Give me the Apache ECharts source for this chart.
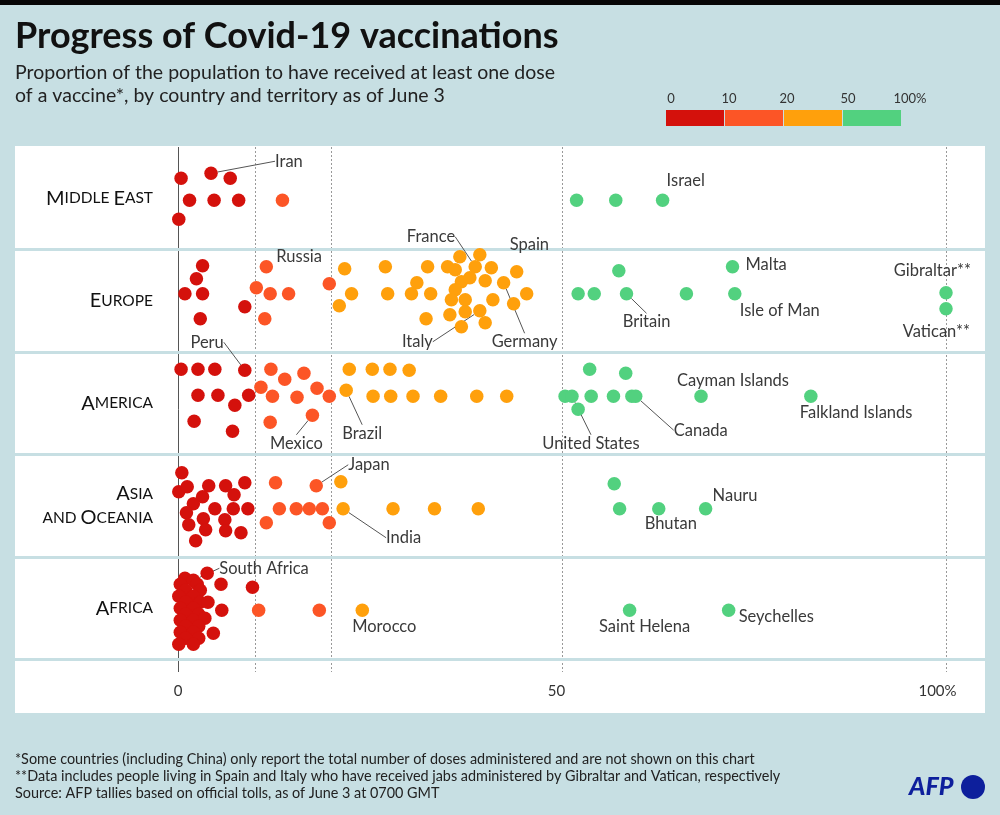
<!DOCTYPE html>
<html>
<head>
<meta charset="utf-8">
<title>Progress of Covid-19 vaccinations</title>
<script src="https://cdn.jsdelivr.net/npm/echarts@6/dist/echarts.min.js"></script>
<style>
  html, body { margin: 0; padding: 0; background: #c7dfe3; }
  #chart { width: 1000px; height: 815px; }
</style>
</head>
<body>
<div id="chart"></div>
<script>
// regions, top to bottom
const regions = ['Middle East', 'Europe', 'America', 'Asia and Oceania', 'Africa'];

// [% with at least one dose, jitter inside the band (px from band centre), name if labelled]
const middleEast = [
  [0.4, -20], [4.3, -25, 'Iran'], [6.8, -20], [1.5, 2], [4.7, 2], [7.9, 2], [0.1, 21],
  [13.6, 2],
  [51.9, 2], [57.0, 2], [63.1, 2, 'Israel']
];
const europe = [
  [3.2, -35], [2.4, -22], [0.9, -7], [3.2, -7], [2.9, 18], [8.7, 6],
  [11.5, -34, 'Russia'], [10.2, -13], [12.0, -7], [14.4, -7], [11.3, 18], [19.7, -17],
  [21.7, -32], [27.0, -34], [22.6, -7], [27.3, -7], [21.0, 5], [32.5, -34], [35.1, -34],
  [36.1, -31], [36.7, -44], [39.3, -46], [38.7, -34, 'France'], [40.8, -33], [44.1, -29, 'Spain'],
  [31.1, -18], [30.4, -7], [32.9, -7], [36.9, -19], [38.0, -23], [40.0, -20],
  [42.4, -18, 'Germany'], [45.4, -7], [36.1, -11], [35.6, -1], [37.4, -1], [41.0, -1],
  [43.7, 3], [35.4, 14], [37.4, 11], [39.3, 10, 'Italy'], [32.3, 18], [36.9, 26], [40.0, 22],
  [57.4, -30], [52.1, -7], [54.2, -7], [58.4, -7, 'Britain'], [66.2, -7], [72.2, -34, 'Malta'],
  [72.5, -7, 'Isle of Man'], [100, -8, 'Gibraltar**'], [100, 8, 'Vatican**']
];
const america = [
  [0.4, -34], [2.6, -34], [4.8, -34], [8.7, -33, 'Peru'], [2.6, -8], [5.2, -8], [9.2, -8],
  [7.4, 2], [2.1, 18], [7.1, 28],
  [12.1, -34], [16.4, -30], [13.9, -24], [10.8, -16], [18.1, -15], [12.3, -7], [15.5, -6],
  [19.7, -7], [17.5, 12, 'Mexico'], [12.0, 19],
  [22.3, -34], [25.3, -34], [27.6, -34], [30.1, -33], [21.9, -13, 'Brazil'], [25.4, -7],
  [27.7, -7], [30.6, -7], [34.2, -7], [38.9, -7], [42.8, -7],
  [50.4, -7], [51.3, -7, 'United States'], [52.1, 6], [53.6, -34], [53.8, -7], [56.7, -7],
  [58.3, -30], [59.1, -7], [59.6, -7, 'Canada'], [68.1, -7, 'Cayman Islands'],
  [82.4, -7, 'Falkland Islands']
];
const asia = [
  [0.5, -33], [0.1, -14], [1.2, -19], [4.0, -20], [6.2, -20], [8.7, -23], [3.2, -9], [7.3, -11],
  [2.0, -2], [4.8, 3], [7.2, 3], [9.1, 3], [1.1, 7], [3.3, 13], [1.4, 19], [6.1, 14], [3.6, 24],
  [6.2, 25], [8.2, 27], [2.3, 35],
  [12.7, -23], [18.0, -20, 'Japan'], [13.2, 3], [15.4, 3], [17.1, 3], [18.8, 3], [11.5, 17],
  [19.7, 17],
  [21.2, -24], [21.5, 3, 'India'], [28.0, 3], [33.4, 3], [39.1, 3],
  [56.8, -22], [57.5, 3], [62.6, 3, 'Bhutan'], [68.7, 3, 'Nauru']
];
const africa = [
  [3.8, -35], [0.9, -30], [2.0, -28, 'South Africa'], [0.3, -24], [2.5, -24], [1.0, -18],
  [2.9, -18], [5.6, -24], [9.7, -21], [0.1, -12], [2.0, -12], [1.0, -6], [2.9, -6], [3.9, -6],
  [0.3, 0], [2.0, 0], [5.7, 2], [1.0, 6], [2.7, 6], [0.3, 12], [2.0, 12], [3.5, 10], [1.0, 18],
  [2.7, 18], [0.3, 24], [2.0, 24], [4.6, 25], [1.0, 30], [2.7, 30], [0.1, 36], [2.0, 36],
  [10.5, 2], [18.4, 2],
  [24.0, 2, 'Morocco'],
  [58.8, 2, 'Saint Helena'], [71.7, 2, 'Seychelles']
];
const regionData = [middleEast, europe, america, asia, africa];

const xTicks = [0, 50, 100];
const guides = [10, 20, 50, 100];
const legendSteps = [0, 10, 20, 50, 100];
const legendLabels = ['0', '10', '20', '50', '100%'];
const stepColors = ['#d4110c', '#fc5526', '#ffa00c', '#52d17f'];

const BAND = 102.5;
const BG = '#c7dfe3';
const FONT = 'Lato, "Noto Sans", sans-serif';

// where each country name sits relative to its dot
const labelPlace = {
  'Iran': [64, -12, 'left'], 'Israel': [4, -20, 'left'], 'Russia': [10, -10, 'left'],
  'France': [-20, -30, 'right'], 'Spain': [-7, -27, 'left'], 'Italy': [-47, 31, 'right'],
  'Germany': [-12, 59, 'left'], 'Malta': [13, -2, 'left'], 'Britain': [20, 28, 'center'],
  'Isle of Man': [5, 17, 'left'], 'Gibraltar**': [25, -22, 'right'], 'Vatican**': [24, 23, 'right'],
  'Peru': [-21, -28, 'right'], 'Mexico': [-16, 28, 'center'], 'Brazil': [16, 43, 'center'],
  'United States': [19, 47, 'center'], 'Canada': [38, 34, 'left'],
  'Cayman Islands': [32, -16, 'center'], 'Falkland Islands': [-11, 16, 'left'],
  'Japan': [32, -21, 'left'], 'India': [43, 29, 'left'], 'Nauru': [7, -13, 'left'],
  'Bhutan': [12, 15, 'center'], 'South Africa': [26, -12, 'left'], 'Morocco': [22, 16, 'center'],
  'Saint Helena': [15, 16, 'center'], 'Seychelles': [10, 6, 'left']
};
const withLeader = ['Iran', 'France', 'Italy', 'Germany', 'Britain', 'Peru', 'Mexico', 'Brazil',
  'United States', 'Canada', 'Japan', 'India', 'South Africa'];

const smallCaps = (name) => name.replace(' and ', '\nand ').split('\n').map(line =>
  line.split(' ').map(w => {
    const first = w[0];
    const head = first === first.toUpperCase() ? '{c|' + first + '}' : '{s|' + first.toUpperCase() + '}';
    return head + (w.length > 1 ? '{s|' + w.slice(1).toUpperCase() + '}' : '');
  }).join('{s| }')
).join('\n');

const chart = echarts.init(document.getElementById('chart'));

const scatterSeries = regionData.map((points, i) => ({
  name: regions[i],
  type: 'scatter',
  symbolSize: 13.5,
  zlevel: 1,
  itemStyle: {opacity: 1},
  data: points.map(p => {
    const item = {value: [p[0], BAND * (i + 0.5) + p[1]]};
    if (p[2]) {
      item.name = p[2];
      item.label = {show: true};
      item.labelLine = {show: withLeader.includes(p[2])};
    }
    return item;
  }),
  label: {
    show: false,
    formatter: '{b}',
    fontFamily: FONT,
    fontSize: 16.5,
    color: '#3a3a3a'
  },
  labelLine: {lineStyle: {color: '#555', width: 1}},
  labelLayout: (params) => {
    const place = labelPlace[params.text];
    if (!place) return {};
    return {
      x: params.rect.x + params.rect.width / 2 + place[0],
      y: params.rect.y + params.rect.height / 2 + place[1],
      align: place[2],
      verticalAlign: 'middle'
    };
  }
}));

const guideSeries = {
  type: 'line',
  data: [],
  z: 1,
  silent: true,
  markLine: {
    silent: true,
    symbol: 'none',
    label: {show: false},
    animation: false,
    data: [{xAxis: 0, lineStyle: {color: '#555', width: 1, type: 'solid'}}]
      .concat(guides.map(g => ({xAxis: g, lineStyle: {color: '#999', width: 1, type: [2, 2]}})))
      .concat(regions.map((r, i) => ({yAxis: BAND * (i + 1), lineStyle: {color: BG, width: 3, type: 'solid'}})))
  }
};

const option = {
  backgroundColor: BG,
  animation: false,
  title: [
    {
      text: 'Progress of Covid-19 vaccinations',
      subtext: 'Proportion of the population to have received at least one dose\nof a vaccine*, by country and territory as of June 3',
      left: 10,
      top: 13,
      itemGap: 7,
      textStyle: {fontFamily: FONT, fontWeight: 'bold', fontSize: 36, color: '#111'},
      subtextStyle: {fontFamily: FONT, fontSize: 19.5, lineHeight: 23, color: '#222'}
    },
    {
      text: '*Some countries (including China) only report the total number of doses administered and are not shown on this chart\n' +
        '**Data includes people living in Spain and Italy who have received jabs administered by Gibraltar and Vatican, respectively\n' +
        'Source: AFP tallies based on official tolls, as of June 3 at 0700 GMT',
      left: 10,
      top: 746,
      textStyle: {fontFamily: FONT, fontWeight: 'normal', fontSize: 14.4, lineHeight: 17, color: '#222'}
    }
  ],
  grid: {left: 15, right: 15, top: 147, height: 525},
  xAxis: {
    type: 'value',
    min: (15 - 178) / 7.68,
    max: (985 - 178) / 7.68,
    axisLine: {show: false},
    axisTick: {show: false},
    splitLine: {show: false},
    axisLabel: {
      customValues: xTicks,
      margin: 12,
      fontFamily: FONT,
      fontSize: 15,
      color: '#333',
      formatter: v => (v === 100 ? '{p|100%}' : v === 50 ? '{q|50}' : String(v)),
      rich: {
        p: {fontFamily: FONT, fontSize: 15, color: '#333', padding: [0, 17, 0, 0]},
        q: {fontFamily: FONT, fontSize: 15, color: '#333', padding: [0, 11, 0, 0]}
      }
    }
  },
  yAxis: {
    type: 'value',
    inverse: true,
    min: 0,
    max: 525,
    interval: BAND / 2,
    offset: -140,
    axisLine: {show: false},
    axisTick: {show: false},
    splitLine: {show: false},
    axisLabel: {
      margin: 2,
      align: 'right',
      formatter: v => {
        const k = Math.round(v / (BAND / 2));
        return (k % 2 === 1 && k < regions.length * 2) ? smallCaps(regions[(k - 1) / 2]) : '';
      },
      rich: {
        c: {fontFamily: FONT, fontSize: 20, color: '#111', lineHeight: 24},
        s: {fontFamily: FONT, fontSize: 15.5, color: '#111', lineHeight: 24}
      }
    }
  },
  visualMap: {
    type: 'piecewise',
    seriesIndex: [0, 1, 2, 3, 4],
    dimension: 0,
    orient: 'horizontal',
    left: 666,
    top: 110,
    padding: 0,
    itemWidth: 58,
    itemHeight: 16,
    itemGap: 1,
    itemSymbol: 'rect',
    showLabel: false,
    selectedMode: false,
    hoverLink: false,
    pieces: stepColors.map((c, i) => ({gte: legendSteps[i], lt: i === stepColors.length - 1 ? 1000 : legendSteps[i + 1], color: c}))
  },
  graphic: [
    {type: 'rect', shape: {x: 0, y: 0, width: 1000, height: 5}, style: {fill: '#060606'}},
    {type: 'rect', z: -1, shape: {x: 15, y: 146, width: 970, height: 567}, style: {fill: '#fff'}},
    ...legendLabels.map((t, i) => ({
      type: 'text',
      x: [671, 729, 787, 848, 910][i],
      y: 99,
      style: {text: t, fontFamily: FONT, fontSize: 13, fill: '#333', align: 'center', verticalAlign: 'middle'}
    })),
    {type: 'text', x: 909, y: 787,
      style: {text: 'AFP', font: 'italic 900 25px Lato, sans-serif', fill: '#0d1f9c', verticalAlign: 'middle'}},
    {type: 'circle', shape: {cx: 973, cy: 787, r: 12}, style: {fill: '#0d1f9c'}}
  ],
  series: scatterSeries.concat([guideSeries])
};

chart.setOption(option);
</script>
</body>
</html>
